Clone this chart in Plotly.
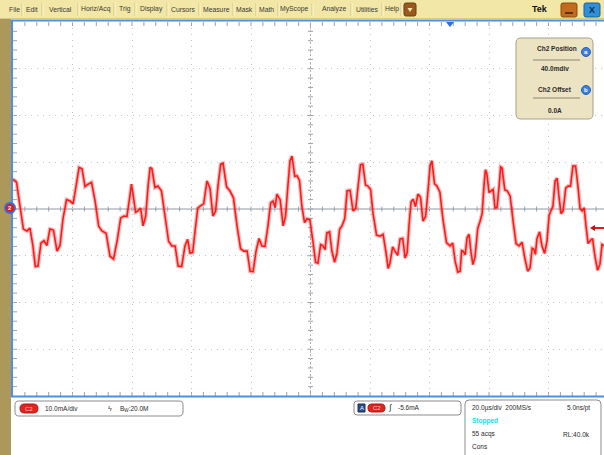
import plotly.graph_objects as go

# ---------------- data ----------------
time_us = [0, 1.2, 2.35, 3.5, 4.7, 5.7, 6.7, 7.5, 8.4, 9.4, 10.4, 11.4, 12.4, 13.6, 14.8, 15.8,
           16.8, 18.0, 19.2, 20.2, 21.2, 22.2, 23.2, 24.2, 25.2, 26.4, 27.6, 28.8, 29.9, 31.3,
           32.6, 33.8, 35.0, 36.2, 37.3, 38.3, 39.3, 39.8, 40.3, 41.2, 42.0, 42.9, 43.7, 44.6,
           45.4, 46.1, 46.7, 47.7, 48.7, 49.9, 51.1, 52.3, 53.4, 54.5, 55.5, 56.7, 57.8, 58.7,
           59.5, 60.4, 61.2, 62.1, 62.9, 64.1, 65.2, 66.2, 67.2, 68.1, 68.9, 69.8, 70.6, 71.8,
           72.9, 74.1, 75.3, 76.5, 77.6, 78.7, 79.7, 80.7, 81.7, 82.7, 83.7, 84.7, 85.7, 86.6,
           87.4, 88.1, 88.7, 89.8, 90.8, 91.6, 92.4, 93.1, 93.8, 94.7, 95.5, 96.3, 97.1, 98.0,
           98.8, 99.8, 100.8, 101.7, 102.5, 103.4, 104.2, 104.9, 105.5, 106.4, 107.2, 108.1,
           108.9, 109.8, 110.6, 111.5, 112.3, 113.3, 114.3, 115.2, 116.0, 116.8, 117.6, 118.5,
           119.3, 120.2, 121.0, 122.2, 123.4, 124.4, 125.4, 126.1, 126.7, 127.6, 128.4, 129.3,
           130.1, 131.0, 131.8, 132.5, 133.1, 133.8, 134.5, 135.3, 136.1, 137.0, 137.8, 138.7,
           139.5, 140.2, 140.8, 141.7, 142.5, 143.5, 144.5, 145.7, 146.9, 147.8, 148.6, 149.5,
           150.3, 150.8, 151.3, 152.0, 152.6, 153.3, 153.9, 154.6, 155.3, 156.2, 157.0, 157.7,
           158.3, 158.8, 159.3, 160.0, 160.7, 161.4, 162.0, 162.7, 163.4, 163.9, 164.4, 165.3,
           166.1, 167.1, 168.1, 169.1, 170.1, 171.1, 172.1, 173.0, 173.8, 174.5, 175.1, 175.6,
           176.1, 177.0, 177.8, 178.7, 179.5, 180.2, 180.8, 181.5, 182.2, 182.9, 183.5, 184.2,
           184.9, 185.8, 186.6, 187.4, 188.2, 189.1, 189.9, 190.6, 191.3, 192.0, 192.6, 193.3,
           194.0, 194.8, 195.6, 196.5, 197.3, 198.0, 198.7]

current_ma = [6.4, 5.7, 0.6, -4.3, -4.7, -4.1, -7.9, -12.3, -12.2, -7.3, -6.8, -7.8, -4.3, -4.5,
              -9.0, -7.8, -2.1, 2.0, 1.7, 1.1, 4.9, 8.9, 8.6, 4.8, 5.3, 5.7, 1.7, -3.7, -4.7, -5.2,
              -10.1, -10.7, -6.8, -1.9, -1.5, -1.6, 2.8, 5.3, 3.4, -0.7, -0.4, 0.2, -3.6, -1.6,
              4.9, 8.9, 8.6, 4.6, 4.9, 3.9, -1.5, -6.9, -7.9, -7.9, -12.2, -12.3, -7.9, -6.5,
              -9.4, -9.3, -4.7, 0.2, 0.6, 1.1, 6.0, 4.5, -1.5, -0.5, 4.9, 9.6, 9.8, 4.7, 3.9, 2.4,
              -3.6, -8.5, -9.0, -9.0, -13.3, -13.4, -9.0, -6.3, -7.9, -8.0, -3.6, 1.3, 1.7, 0.3,
              3.2, 2.0, -3.6, -1.6, 4.9, 10.3, 11.3, 7.0, 7.1, 6.1, 0.6, -2.9, -2.1, -2.3, -6.8,
              -11.4, -11.6, -7.6, -7.9, -8.7, -5.1, -4.9, -9.0, -11.4, -9.4, -4.3, -3.6, -2.1,
              3.9, 4.0, -0.4, 0.1, 4.9, 9.5, 9.6, 5.1, 4.9, 4.2, -0.9, -5.6, -5.8, -5.4, -9.4,
              -12.7, -11.6, -8.1, -9.0, -9.9, -6.4, -6.3, -10.5, -9.3, -3.6, 1.5, 2.1, 0.5, 3.2,
              2.5, -2.6, -1.6, 3.9, 9.3, 10.3, 5.4, 4.9, 3.6, -2.1, -7.2, -7.9, -7.3, -11.1, -13.5,
              -13.3, -8.9, -9.0, -9.8, -6.2, -5.4, -9.0, -11.9, -10.3, -4.2, -2.6, -1.0, 4.9, 8.4,
              7.5, 3.5, 3.9, 4.2, 0.2, 0.3, 4.9, 9.0, 8.8, 4.1, 3.9, 2.8, -2.6, -7.4, -7.9, -7.1,
              -10.7, -13.3, -12.6, -8.4, -8.6, -9.7, -6.4, -4.9, -7.9, -9.5, -6.8, -1.4, -0.4, 0.6,
              6.0, 6.6, 2.8, -1.0, -0.4, 4.5, 4.9, 4.9, 9.2, 9.2, 4.9, 0.1, -0.4, 0.2, -3.6, -7.4,
              -6.8, -6.3, -10.1, -13.1, -11.8, -7.6, -7.9]

menu_items = ["File", "Edit", "Vertical", "Horiz/Acq", "Trig", "Display", "Cursors", "Measure",
              "Mask", "Math", "MyScope", "Analyze", "Utilities", "Help"]
info_labels = ["Ch2 Position", "40.0mdiv", "Ch2 Offset", "0.0A"]
vert_scale = "10.0mA/div"
bandwidth = "20.0M"
trigger_level = "-5.6mA"
acq_lines = ["20.0µs/div  200MS/s", "5.0ns/pt", "Stopped", "55 acqs", "RL:40.0k", "Cons"]

# ---------------- geometry helpers (pixel -> paper) ----------------
W, H = 604, 455
L, R, T, B = 13, 604, 22, 396
DIVX = 59.5
DIVY = (B - T) / 8
X_RANGE = (R - L) / DIVX * 20.0


def px(x):
    return (x - L) / (R - L)


def py(y):
    return (B - y) / (B - T)


def P(x, y):
    return f"{px(x):.5f},{py(y):.5f}"


def rrect_path(x0, y0, x1, y1, r):
    return (f"M{P(x0 + r, y0)} L{P(x1 - r, y0)} Q{P(x1, y0)} {P(x1, y0 + r)} "
            f"L{P(x1, y1 - r)} Q{P(x1, y1)} {P(x1 - r, y1)} L{P(x0 + r, y1)} "
            f"Q{P(x0, y1)} {P(x0, y1 - r)} L{P(x0, y0 + r)} Q{P(x0, y0)} {P(x0 + r, y0)} Z")


shapes = []
annotations = []
FONT = "Liberation Sans, Arial, sans-serif"


def rect(x0, y0, x1, y1, fill, line=None, lw=0, layer="above"):
    shapes.append(dict(type="rect", xref="paper", yref="paper", x0=px(x0), x1=px(x1),
                       y0=py(y1), y1=py(y0), fillcolor=fill, layer=layer,
                       line=dict(color=line or fill, width=lw)))


def rrect(x0, y0, x1, y1, r, fill, line=None, lw=1):
    shapes.append(dict(type="path", xref="paper", yref="paper", path=rrect_path(x0, y0, x1, y1, r),
                       fillcolor=fill, line=dict(color=line or fill, width=lw), layer="above"))


def seg(x0, y0, x1, y1, color, w=1, layer="above", dash=None):
    d = dict(color=color, width=w)
    if dash:
        d["dash"] = dash
    shapes.append(dict(type="line", xref="paper", yref="paper", x0=px(x0), x1=px(x1),
                       y0=py(y0), y1=py(y1), line=d, layer=layer))


def text(x, y, s, size=7, color="#2a2a2a", anchor="left", bold=False, family=FONT):
    if bold:
        s = f"<b>{s}</b>"
    annotations.append(dict(xref="paper", yref="paper", x=px(x), y=py(y), text=s, showarrow=False,
                            xanchor=anchor, yanchor="middle",
                            font=dict(size=size, color=color, family=family)))


# ---------------- graticule ticks (center cross + edges) ----------------
tick_path = []
cy = (T + B) / 2
cx = L + 5 * DIVX
for k in range(1, 50):
    x = L + k * DIVX / 5
    tick_path.append(f"M{P(x, cy - 2.5)} L{P(x, cy + 2.5)}")
    tick_path.append(f"M{P(x, T)} L{P(x, T + 4)}")
    tick_path.append(f"M{P(x, B)} L{P(x, B - 4)}")
for k in range(1, 40):
    y = T + k * DIVY / 5
    tick_path.append(f"M{P(cx - 2.5, y)} L{P(cx + 2.5, y)}")
    tick_path.append(f"M{P(L, y)} L{P(L + 4, y)}")
shapes.append(dict(type="path", xref="paper", yref="paper", path=" ".join(tick_path),
                   line=dict(color="#9aa3ad", width=1), layer="below"))
seg(L, cy, R, cy, "#8e9aa6", 1, layer="below")
seg(cx, T, cx, B, "#a4adb6", 1, layer="below", dash="2px,2px")

# ---------------- chrome: menu bar, side strip, borders ----------------
rect(0, 0, W, 19, "#f2e7a6")
rect(0, 18, W, 19, "#d8c983")
menu_x = [14, 32, 60, 96, 125, 151, 183, 216, 245, 266, 294, 334, 367, 392]
sep_x = [22, 42, 78, 114, 135, 167, 199, 233, 256, 278, 312, 351, 382, 401]
for name, x in zip(menu_items, menu_x):
    text(x, 9.5, name, size=6.8, color="#3a3a3a", anchor="center")
for x in sep_x:
    seg(x, 3, x, 16, "#d3c47c", 1)
    seg(x + 1, 3, x + 1, 16, "#fbf6da", 1)
# small brown menu button
rrect(404, 3, 416, 16, 2, "#9a5a1c", "#6e3c10", 1)
shapes.append(dict(type="path", xref="paper", yref="paper",
                   path=f"M{P(407.5, 8)} L{P(412.5, 8)} L{P(410, 12)} Z",
                   fillcolor="#f4e0b0", line=dict(width=0), layer="above"))
text(540, 9.5, "Tek", size=9, color="#111", anchor="center", bold=True)
rrect(561, 3, 577, 17, 2, "#c26b1e", "#8a4a12", 1)
seg(565, 13, 573, 13, "#3a2008", 1.5)
rrect(584, 3, 600, 17, 2, "#2f8fd8", "#1d5f9a", 1)
text(592, 10.5, "X", size=9, color="#0b2a44", anchor="center", bold=True)

# left strip and blue frame
rect(0, 19, 11, H, "#ad985c")
seg(11, 20.5, W, 20.5, "#4f8ee8", 2)
seg(12, 20, 12, 397, "#4f8ee8", 2)
seg(11, 396.5, W, 396.5, "#4f8ee8", 2)

# channel marker (left) and trigger markers
shapes.append(dict(type="circle", xref="paper", yref="paper", x0=px(5), x1=px(15),
                   y0=py(213), y1=py(203), fillcolor="#e81818",
                   line=dict(color="#2f6fe0", width=2), layer="above"))
text(10, 208, "2", size=6, color="#ffffff", anchor="center", bold=True)
shapes.append(dict(type="path", xref="paper", yref="paper",
                   path=f"M{P(446, 22)} L{P(454, 22)} L{P(450, 27)} Z",
                   fillcolor="#2f6fe0", line=dict(width=0), layer="above"))
seg(593, 228, 604, 228, "#e81818", 2)
shapes.append(dict(type="path", xref="paper", yref="paper",
                   path=f"M{P(590, 228)} L{P(595, 225)} L{P(595, 231)} Z",
                   fillcolor="#c01010", line=dict(width=0), layer="above"))

# ---------------- info box (top right) ----------------
rrect(516, 38, 593, 119, 5, "#ece3c3", "#a9a08a", 1)
text(557, 49, info_labels[0], size=6.5, anchor="center", bold=True)
seg(533, 60, 580, 60, "#8c8570", 1)
text(555, 69, info_labels[1], size=6.5, anchor="center", bold=True)
text(555, 89, info_labels[2], size=6.5, anchor="center", bold=True)
seg(533, 98, 580, 98, "#8c8570", 1)
text(555, 110, info_labels[3], size=6.5, anchor="center", bold=True)
for (cxx, cyy, lab) in [(586, 52, "a"), (586, 90, "b")]:
    shapes.append(dict(type="circle", xref="paper", yref="paper", x0=px(cxx - 4.5), x1=px(cxx + 4.5),
                       y0=py(cyy + 4.5), y1=py(cyy - 4.5), fillcolor="#3d7fe0",
                       line=dict(color="#2a5fb0", width=1), layer="above"))
    text(cxx, cyy, lab, size=6, color="#ffffff", anchor="center", bold=True)

# ---------------- bottom status panels ----------------
rrect(15, 401, 183, 416, 4, "#ffffff", "#8c8c8c", 1)
rrect(20, 404, 38, 413, 4.5, "#e3231e", "#b01510", 1)
text(29, 408.5, "C2", size=6, color="#ffcccc", anchor="center")
text(43, 408.5, vert_scale, size=6.5, anchor="left")
text(110, 408.5, "ϟ", size=7, color="#444", anchor="center")
text(118, 408.5, "B<sub>W</sub>:" + bandwidth, size=6.5, anchor="left")

rrect(354, 401, 461, 415, 3, "#ffffff", "#8c8c8c", 1)
rect(358, 404, 365, 412, "#2c4a8a", "#1a2e5a", 1)
text(361.5, 408, "A", size=6, color="#ffffff", anchor="center")
rrect(368, 404, 385, 412, 4, "#e3231e", "#b01510", 1)
text(376.5, 408, "C2", size=6, color="#ffcccc", anchor="center")
text(390, 408, "∫", size=8, color="#222", anchor="center")
text(396, 408, trigger_level, size=6.5, anchor="left")

rrect(465, 400, 601, 462, 4, "#ffffff", "#8c8c8c", 1)
text(470, 408, acq_lines[0], size=6.5, anchor="left")
text(592, 408, acq_lines[1], size=6.5, anchor="right")
text(470, 421, acq_lines[2], size=6.5, color="#1ed8ee", anchor="left", bold=True)
text(470, 434, acq_lines[3], size=6.5, anchor="left")
text(592, 434, acq_lines[4], size=6.5, anchor="right")
text(470, 446, acq_lines[5], size=6.5, anchor="left")

# ---------------- figure ----------------
fig = go.Figure()
fig.add_trace(go.Scatter(x=time_us, y=current_ma, mode="lines",
                         line=dict(color="rgba(255,50,50,0.35)", width=4), hoverinfo="skip",
                         showlegend=False))
fig.add_trace(go.Scatter(x=time_us, y=current_ma, mode="lines",
                         line=dict(color="#ff1a1a", width=1.6), showlegend=False,
                         name="Ch2"))

fig.update_layout(
    width=W, height=H,
    margin=dict(l=L, r=W - R, t=T, b=H - B, pad=0),
    paper_bgcolor="#ffffff", plot_bgcolor="#ffffff",
    shapes=shapes, annotations=annotations, showlegend=False,
    xaxis=dict(range=[0, X_RANGE], dtick=20, tick0=0, showgrid=True, gridcolor="#c4c4c4",
               griddash="1px,5px", gridwidth=1, zeroline=False, showticklabels=False,
               ticks="", showline=False, fixedrange=True),
    yaxis=dict(range=[-40, 40], dtick=10, tick0=0, showgrid=True, gridcolor="#c4c4c4",
               griddash="1px,5px", gridwidth=1, zeroline=False, showticklabels=False,
               ticks="", showline=False, fixedrange=True),
)

fig.write_html("out.html", config=dict(displayModeBar=False),
               post_script="document.body.style.margin='0';document.body.style.overflow='hidden';")
